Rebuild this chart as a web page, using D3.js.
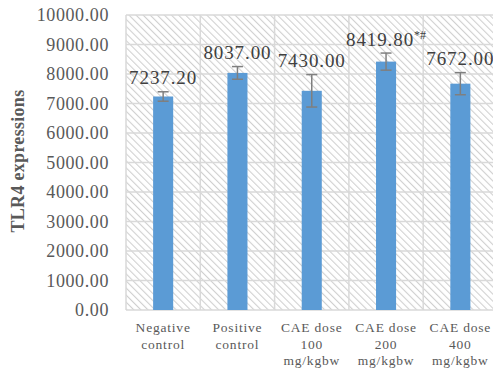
<!DOCTYPE html>
<html><head><meta charset="utf-8">
<script src="https://cdn.jsdelivr.net/npm/d3@7"></script>
<style>html,body{margin:0;padding:0;background:#fff;overflow:hidden}</style>
</head><body>
<svg id="c" width="493" height="370"></svg>
<script>
const categories = [["Negative","control"],["Positive","control"],["CAE dose","100","mg/kgbw"],["CAE dose","200","mg/kgbw"],["CAE dose","400","mg/kgbw"]];
const values = [7237.20, 8037.00, 7430.00, 8419.80, 7672.00];
const errors = [160, 215, 550, 290, 375];
const valueLabels = ["7237.20","8037.00","7430.00","8419.80","7672.00"];
const labelMarks = ["","","","*#",""];
const yTicks = [0,1000,2000,3000,4000,5000,6000,7000,8000,9000,10000];
const yTitle = "TLR4 expressions";

const svg = d3.select("#c");
const m = {left:126, top:15, right:497.5, bottom:310};
const x = d3.scaleBand().domain(d3.range(values.length)).range([m.left, m.right]).paddingInner(0).paddingOuter(0);
const y = d3.scaleLinear().domain([0,10000]).range([m.bottom, m.top]);

const defs = svg.append("defs");
const pat = defs.append("pattern").attr("id","hatch").attr("patternUnits","userSpaceOnUse")
  .attr("width",5).attr("height",5).attr("patternTransform","rotate(-45)");
pat.append("rect").attr("x",0).attr("y",0).attr("width",1.1).attr("height",5).attr("fill","#d0d0d0");

svg.append("rect").attr("x",m.left).attr("y",m.top).attr("width",m.right-m.left).attr("height",m.bottom-m.top)
  .attr("fill","url(#hatch)");

// gridlines
svg.append("g").selectAll("line").data(yTicks).join("line")
  .attr("x1",m.left).attr("x2",m.right).attr("y1",d=>y(d)).attr("y2",d=>y(d))
  .attr("stroke","#d9d9d9").attr("stroke-width",1.5);
const bounds = d3.range(values.length+1).map(i => i<values.length ? x(i) : m.right);
svg.append("g").selectAll("line").data(bounds).join("line")
  .attr("x1",d=>d).attr("x2",d=>d).attr("y1",m.top).attr("y2",m.bottom)
  .attr("stroke","#d9d9d9").attr("stroke-width",1.5);

// y axis labels
const yAxis = d3.axisLeft(y).tickValues(yTicks).tickFormat(d3.format(".2f")).tickSize(0).tickPadding(17);
const ga = svg.append("g").attr("transform",`translate(${m.left},0)`).call(yAxis);
ga.select(".domain").remove();
ga.selectAll("text").attr("font-family","'Liberation Serif','Times New Roman',serif")
  .attr("font-size",18).attr("letter-spacing",0.6).attr("fill","#595959");

// bars
const bw = x.bandwidth()*0.27;
svg.append("g").selectAll("rect").data(values).join("rect")
  .attr("x",(d,i)=>x(i)+x.bandwidth()/2-bw/2).attr("width",bw)
  .attr("y",d=>y(d)).attr("height",d=>y(0)-y(d)).attr("fill","#5b9bd5");

// error bars
const eb = svg.append("g").attr("stroke","#7f7f7f").attr("stroke-width",1.5);
values.forEach((v,i)=>{
  const cx = x(i)+x.bandwidth()/2;
  eb.append("line").attr("x1",cx).attr("x2",cx).attr("y1",y(v+errors[i])).attr("y2",y(v-errors[i]));
  [v+errors[i], v-errors[i]].forEach(t=>{
    eb.append("line").attr("x1",cx-5.5).attr("x2",cx+5.5).attr("y1",y(t)).attr("y2",y(t));
  });
});

// value labels
values.forEach((v,i)=>{
  const cx = x(i)+x.bandwidth()/2;
  const t = svg.append("text").attr("x",cx).attr("y",y(v+errors[i])-7.5)
    .attr("text-anchor","middle").attr("font-family","'Liberation Serif','Times New Roman',serif")
    .attr("font-size",19).attr("letter-spacing",0.9).attr("fill","#404040");
  t.append("tspan").text(valueLabels[i]);
  if (labelMarks[i]) t.append("tspan").attr("font-size",12).attr("dy",-7).attr("letter-spacing",0).text(labelMarks[i]);
});

// category labels
categories.forEach((lines,i)=>{
  const cx = x(i)+x.bandwidth()/2;
  const t = svg.append("text").attr("text-anchor","middle")
    .attr("font-family","'Liberation Serif','Times New Roman',serif")
    .attr("font-size",13.5).attr("letter-spacing",0.8).attr("fill","#595959");
  lines.forEach((l,j)=>t.append("tspan").attr("x",cx).attr("y",332+j*16.5).text(l));
});

// y title
svg.append("text").attr("transform","translate(24,161) rotate(-90)").attr("text-anchor","middle")
  .attr("font-family","'Liberation Serif','Times New Roman',serif").attr("font-weight","bold")
  .attr("font-size",18).attr("letter-spacing",0.3).attr("fill","#595959").text(yTitle);
</script>
</body></html>
